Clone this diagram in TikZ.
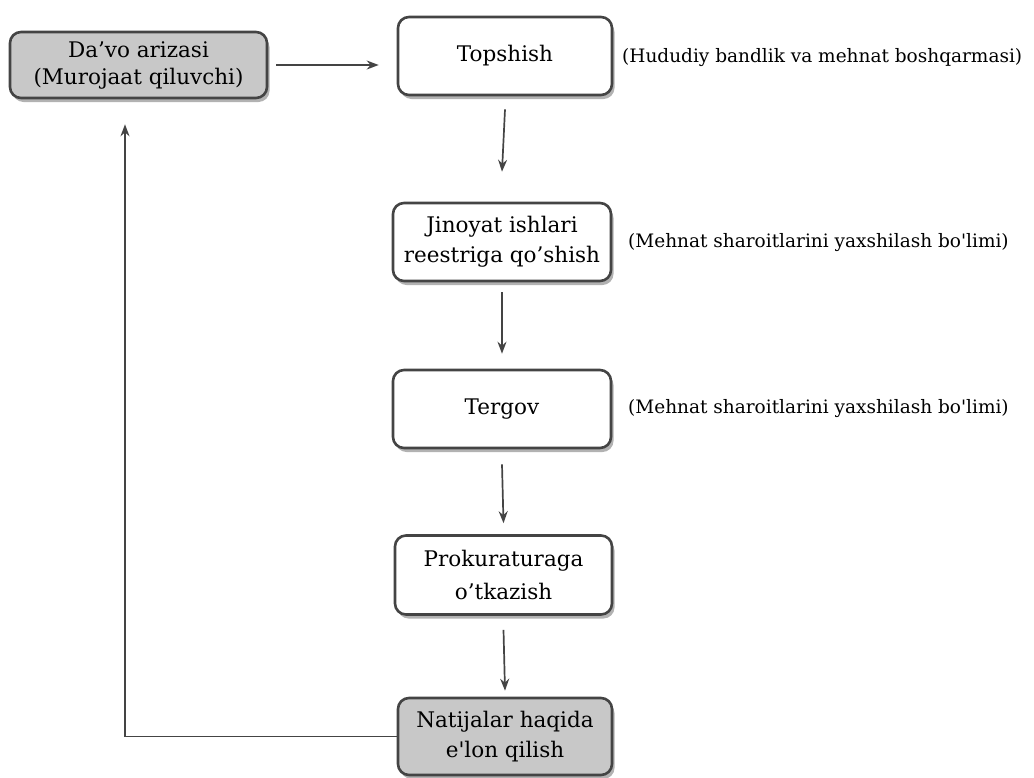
\documentclass[tikz,border=0pt]{standalone}
\usepackage{fontspec}
\setmainfont{DejaVu Serif}
\usetikzlibrary{arrows.meta,shadows}
\definecolor{edge}{HTML}{444444}
\definecolor{boxgray}{HTML}{C8C8C8}
\tikzset{
  box/.style={draw=edge, line width=2.6pt, rounded corners=11pt, fill=white, align=center,
    font=\fontsize{21.5}{30}\selectfont, inner sep=0pt,
    drop shadow={shadow xshift=2.5pt, shadow yshift=-4pt, fill=black, opacity=0.3}},
  graybox/.style={box, fill=boxgray},
  arr/.style={draw=edge, line width=1.7pt, -{Stealth[length=12pt,width=9pt]}},
  side/.style={anchor=west, font=\fontsize{18.5}{22}\selectfont, inner sep=0pt},
}
\begin{document}
\begin{tikzpicture}[x=1pt,y=-1pt]
\useasboundingbox (0,0) rectangle (1034,777);

\node[graybox, minimum width=257pt, minimum height=66pt, font=\fontsize{21.5}{27}\selectfont] (davo) at (138.5,65) {Da’vo arizasi\\(Murojaat qiluvchi)};
\node[box, minimum width=214pt, minimum height=78pt] (top) at (505,56) {Topshish};
\node[box, minimum width=218pt, minimum height=78pt] (jin) at (502,242) {Jinoyat ishlari\\reestriga qo’shish};
\node[box, minimum width=218pt, minimum height=78pt] (ter) at (502,409) {Tergov};
\node[box, minimum width=217pt, minimum height=79pt, font=\fontsize{21.5}{33}\selectfont] (pro) at (503.5,575) {Prokuraturaga\\o’tkazish};
\node[graybox, minimum width=214pt, minimum height=77pt] (nat) at (505,736.5) {Natijalar haqida\\e\textquotesingle lon qilish};

\node[side] (l1) at (622,58) {(Hududiy bandlik va mehnat boshqarmasi)};
\node[side] (l2) at (628,243) {(Mehnat sharoitlarini yaxshilash bo\textquotesingle limi)};
\node[side] (l3) at (628,409) {(Mehnat sharoitlarini yaxshilash bo\textquotesingle limi)};

\draw[arr] ([xshift=8pt]davo.east) -- ([xshift=-18pt]davo.east -| top.west);
\draw[arr] ([yshift=-13pt]top.south) -- ([yshift=30pt]jin.north);
\draw[arr] ([yshift=-10pt]jin.south) -- ([yshift=15pt]ter.north);
\draw[arr] ([yshift=-15pt]ter.south) -- ([yshift=11pt]pro.north);
\draw[arr] ([yshift=-14pt]pro.south) -- ([yshift=6pt]nat.north);
\draw[arr] (nat.west) -| ([xshift=-13.5pt,yshift=-25pt]davo.south);
\end{tikzpicture}
\end{document}
